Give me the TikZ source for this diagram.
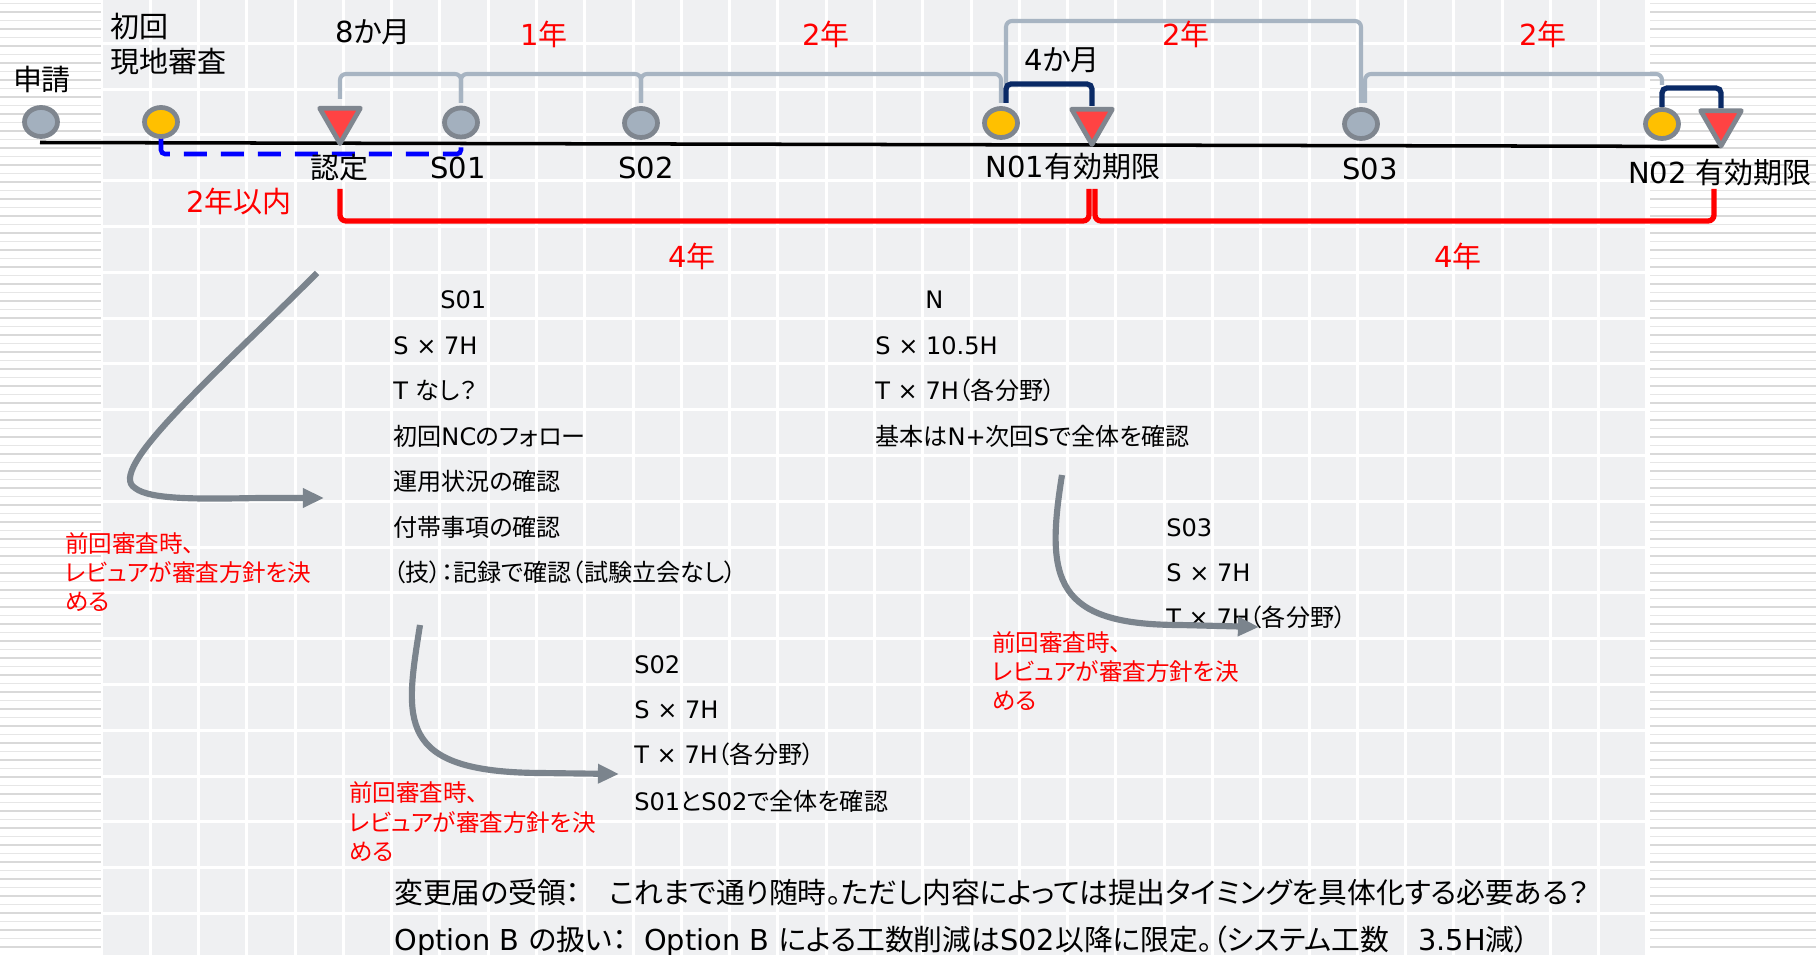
\documentclass[tikz,border=0pt]{standalone}
\usepackage{fontspec}
\setmainfont{DejaVu Sans}
\newfontfamily\jpf[RawFeature=+palt]{Noto Sans CJK JP}
\newcommand\J[1]{{\jpf #1}}
\usetikzlibrary{arrows.meta,shapes.geometric}
\pgfdeclarelayer{back}
\pgfdeclarelayer{mid}
\pgfsetlayers{back,mid,main}
\definecolor{bggrey}{HTML}{EFF0F2}
\definecolor{stripeA}{HTML}{D9D9D9}
\definecolor{stripeB}{HTML}{E6E6E6}
\definecolor{nodegrey}{HTML}{A3B0BE}
\definecolor{edgegrey}{HTML}{7F868F}
\definecolor{gold}{HTML}{FFC000}
\definecolor{trired}{HTML}{FF4343}
\definecolor{brk}{HTML}{A7B4C2}
\definecolor{navy}{HTML}{0A2A66}
\definecolor{arrowgrey}{HTML}{7B848D}
\begin{document}
\begin{tikzpicture}[x=0.02cm,y=-0.02cm,
  dot/.style={ellipse, draw=edgegrey, line width=2.7pt, fill=nodegrey, minimum width=0.66cm, minimum height=0.58cm, inner sep=0pt},
  golddot/.style={dot, fill=gold},
  tridown/.style={regular polygon, regular polygon sides=3, regular polygon rotate=180, draw=edgegrey, fill=trired, line width=2.7pt, line join=round, minimum size=0.94cm, inner sep=0pt},
  br/.style={to path={(\tikztostart) -- (\tikztostart |- 0,#1) -- (\tikztotarget |- 0,#1) -- (\tikztotarget)}},
  gbr/.style={draw=brk, line width=2.3pt, rounded corners=0.12cm},
  nbr/.style={draw=navy, line width=3pt, rounded corners=0.1cm},
  rbr/.style={draw=red, line width=3pt, rounded corners=0.12cm},
  bdash/.style={draw=blue, line width=2.6pt, dash pattern=on 0.46cm off 0.28cm, rounded corners=0.08cm},
  mainline/.style={draw=black, line width=2pt},
  arr/.style={draw=arrowgrey, line width=3.5pt, -{Triangle[length=12pt,width=10.5pt]}},
  tl/.style={font=\fontsize{16.5pt}{20pt}\selectfont, inner sep=0pt, anchor=base},
  tlw/.style={tl, anchor=base west},
  redtl/.style={tl, text=red},
  body/.style={font=\fontsize{13.7pt}{16pt}\selectfont, inner sep=0pt, anchor=base west},
  note/.style={font=\fontsize{13.4pt}{16pt}\selectfont, text=red, inner sep=0pt, anchor=base west},
  foot/.style={font=\fontsize{16.4pt}{19pt}\selectfont, inner sep=0pt, anchor=base west}
]
\useasboundingbox (0,0) rectangle (1816,955);

\begin{pgfonlayer}{back}
  \fill[white] (0,0) rectangle (1816,955);
  \fill[bggrey] (102,0) rectangle (1648,955);
  \foreach \i in {0,...,32} \draw[white, line width=1.7pt] ({102+48.28*\i},0) -- ({102+48.28*\i},955);
  \foreach \j in {1,...,20} \draw[white, line width=1.7pt] (102,{-2.5+45.8*\j}) -- (1648,{-2.5+45.8*\j});
  \foreach \k in {0,...,56} {
    \draw[stripeB, line width=0.7pt] (0,{3.3+17*\k}) -- (101,{3.3+17*\k});
    \draw[stripeA, line width=1.2pt] (0,{11.8+17*\k}) -- (101,{11.8+17*\k});
    \draw[stripeB, line width=0.7pt] (1650,{3.3+17*\k}) -- (1816,{3.3+17*\k});
    \draw[stripeA, line width=1.2pt] (1650,{11.8+17*\k}) -- (1816,{11.8+17*\k});
  }
\end{pgfonlayer}

% timeline markers
\node[dot] (c0) at (41,122) {};
\node[golddot] (c1) at (161,122) {};
\node[tridown] (t1) at (340,120) {};
\node[dot] (c2) at (461,122.5) {};
\node[dot] (c3) at (641,123) {};
\node[golddot] (c4) at (1001,123) {};
\node[tridown] (t2) at (1092,121) {};
\node[dot] (c5) at (1361,124) {};
\node[golddot] (c6) at (1662,124) {};
\node[tridown] (t3) at (1721,122.5) {};

\coordinate (m0) at (40,142.5);
\coordinate (m1) at (1721,146.5);
\path (c4.center) ++(5,0) coordinate (c4r);
\path (c5.center) ++(4,0) coordinate (c5r);
\coordinate (r0) at (t1 |- 0,189);
\coordinate (r1) at (1089,189);
\coordinate (r2) at (1095,189);
\coordinate (r3) at (1714,189);

\begin{pgfonlayer}{mid}
  \draw[mainline] (m0) -- (m1);
  \draw[gbr, br=74, shorten <=0.42cm, shorten >=0.39cm] (t1.center) to (c2.center);
  \draw[gbr, br=74, shorten <=0.39cm, shorten >=0.4cm] (c2.center) to (c3.center);
  \draw[gbr, br=74, shorten <=0.4cm, shorten >=0.4cm] (c3.center) to (c4.center);
  \draw[gbr, br=21, shorten <=0.4cm, shorten >=0.42cm] (c4r) to (c5.center);
  \draw[gbr, br=74, shorten <=0.42cm, shorten >=0.78cm] (c5r) to (c6.center);
  \draw[nbr, br=84, shorten <=0.4cm, shorten >=0.3cm] (c4r) to (t2.center);
  \draw[nbr, br=88, shorten <=0.34cm, shorten >=0.28cm] (c6.center) to (t3.center);
  \draw[bdash, br=154, shorten <=0.32cm, shorten >=0.49cm] (c1.center) to (c2.center);
  \draw[rbr, br=221] (r0) to (r1);
  \draw[rbr, br=221] (r2) to (r3);
\end{pgfonlayer}

% timeline labels
\node[tl] (lsh) at (42,91) {\J{申請}};
\node[tlw] (lsk1) at (110,38) {\J{初回}};
\node[tlw] (lsk2) at (110,73) {\J{現地審査}};
\node[tl] (l8m) at (373,43) {8\J{か月}};
\node[redtl] (l1y) at (544,46) {1\J{年}};
\node[redtl] (l2ya) at (826,46) {2\J{年}};
\node[redtl] (l2yb) at (1186,46) {2\J{年}};
\node[redtl] (l2yc) at (1543,46) {2\J{年}};
\node[tl] (l4m) at (1062,71) {4\J{か月}};
\node[tl] (lnin) at (339,179) {\J{認定}};
\node[tl] (ls01) at (458,179) {S01};
\node[tl] (ls02) at (646,179) {S02};
\node[tl] (ln01) at (1073,178) {N01\J{有効期限}};
\node[tl] (ls03) at (1370,180) {S03};
\node[tl] (ln02) at (1720,184) {N02 \J{有効期限}};
\node[redtl] (l2yi) at (239,213) {2\J{年以内}};
\node[redtl] (l4ya) at (692,268) {4\J{年}};
\node[redtl] (l4yb) at (1458,268) {4\J{年}};

% S01 block
\node[body] (s01t) at (440,309) {S01};
\node[body] (s01a) at (393,354.5) {S × 7H};
\node[body] (s01b) at (393,400) {T \J{なし？}};
\node[body] (s01c) at (393,445.5) {\J{初回}NC\J{のフォロー}};
\node[body] (s01d) at (393,491) {\J{運用状況の確認}};
\node[body] (s01e) at (393,536.5) {\J{付帯事項の確認}};
\node[body] (s01f) at (393,582) {\J{（技）：記録で確認（試験立会なし）}};
% N block
\node[body] (nt) at (925,309) {N};
\node[body] (na) at (875,354.5) {S × 10.5H};
\node[body] (nb) at (875,400) {T × 7H\J{（各分野）}};
\node[body] (nc) at (875,445.5) {\J{基本は}N+\J{次回}S\J{で全体を確認}};
% S03 block
\node[body] (s03t) at (1166,537) {S03};
\node[body] (s03a) at (1166,582) {S × 7H};
\node[body] (s03b) at (1166,627) {T × 7H\J{（各分野）}};
% S02 block
\node[body] (s02t) at (634,674) {S02};
\node[body] (s02a) at (634,719) {S × 7H};
\node[body] (s02b) at (634,764) {T × 7H\J{（各分野）}};
\node[body] (s02c) at (634,810) {S01\J{と}S02\J{で全体を確認}};

% red notes
\node[note] (n1a) at (65,553) {\J{前回審査時、}};
\node[note] (n1b) at (65,582) {\J{レビュアが審査方針を決}};
\node[note] (n1c) at (65,611) {\J{める}};
\node[note] (n2a) at (349,802) {\J{前回審査時、}};
\node[note] (n2b) at (349,831) {\J{レビュアが審査方針を決}};
\node[note] (n2c) at (349,860) {\J{める}};
\node[note] (n3a) at (992,652) {\J{前回審査時、}};
\node[note] (n3b) at (992,681) {\J{レビュアが審査方針を決}};
\node[note] (n3c) at (992,710) {\J{める}};

% footer
\node[foot] (f1) at (394,903) {\J{変更届の受領：}\hspace{1.0em}\J{これまで通り随時。ただし内容によっては提出タイミングを具体化する必要ある？}};
\node[foot] (f2) at (394,950) {Option B \J{の扱い：}\hspace{0.6em}Option B \J{による工数削減は}S02\J{以降に限定。（システム工数}\hspace{1.0em}3.5H\J{減）}};

% arrows
\coordinate (a1s) at (317,273);
\coordinate (a1e) at (324,498);
\coordinate (a2s) at (420,625);
\coordinate (a2e) at (619,774);
\coordinate (a3s) at (1062,475);
\coordinate (a3e) at (1259,627);
\draw[arr] (a1s) .. controls (215,375) and (105,470) .. (135,488) .. controls (150,500) and (200,499) .. (260,498) -- (a1e);
\draw[arr] (a2s) .. controls (405,720) and (395,772) .. (540,773) -- (a2e);
\draw[arr] (a3s) .. controls (1045,580) and (1055,625) .. (1180,625) -- (a3e);
\end{tikzpicture}
\end{document}
